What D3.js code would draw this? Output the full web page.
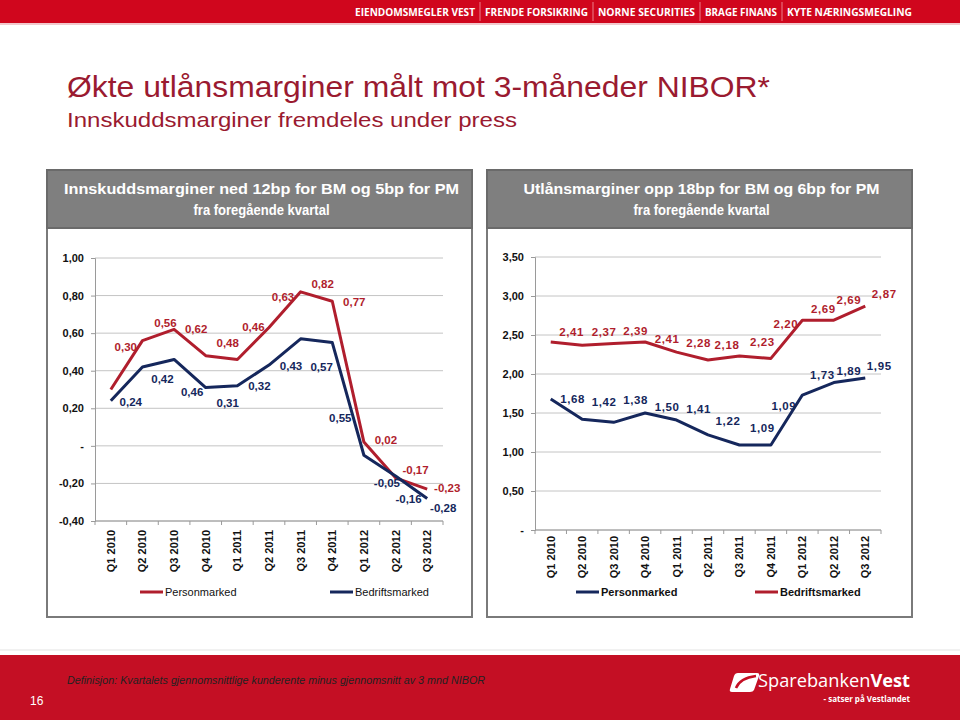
<!DOCTYPE html>
<html><head><meta charset="utf-8">
<script src="https://cdn.jsdelivr.net/npm/d3@7"></script>
<style>
html,body{margin:0;padding:0;background:#fff;}
svg{display:block;font-family:"Liberation Sans",Arial,sans-serif;}
</style></head>
<body>
<svg id="c" width="960" height="720"></svg>
<script>
// ---------- DATA ----------
const categories = ["Q1 2010","Q2 2010","Q3 2010","Q4 2010","Q1 2011","Q2 2011","Q3 2011","Q4 2011","Q1 2012","Q2 2012","Q3 2012"];
// Innskuddsmarginer (deposit margins)
const depositPM = [0.30,0.56,0.62,0.48,0.46,0.63,0.82,0.77,0.02,-0.17,-0.23];
const depositBM = [0.24,0.42,0.46,0.31,0.32,0.43,0.57,0.55,-0.05,-0.16,-0.28];
const depositTicks = [-0.4,-0.2,0,0.2,0.4,0.6,0.8,1.0];
// Utlånsmarginer (lending margins)
const lendingPM = [1.68,1.42,1.38,1.50,1.41,1.22,1.09,1.09,1.73,1.89,1.95];
const lendingBM = [2.41,2.37,2.39,2.41,2.28,2.18,2.23,2.20,2.69,2.69,2.87];
const lendingTicks = [0,0.5,1.0,1.5,2.0,2.5,3.0,3.5];
const bannerItems = ["EIENDOMSMEGLER VEST","FRENDE FORSIKRING","NORNE SECURITIES","BRAGE FINANS","KYTE NÆRINGSMEGLING"];

// ---------- STYLE / LAYOUT ----------
const RED = "#b01e2d", NAVY = "#15275c";
const depPMoff = [[15,-43],[23,-18],[22,0],[22,-13],[16,-32],[14,-31],[22,-8],[22,1],[22,-2],[20,-8],[20,-1]];
const depBMoff = [[20,1],[20,12],[18,33],[22,15],[22,0],[22,1],[21,28],[8,75],[23,28],[13,23],[16,10]];
const lenBMoff = [[21,-10],[22,-13],[22,-13],[22,-3],[22,-9],[19,-15],[23,-14],[15,-34],[21,-11],[15,-20],[19,-12]];
const lenPMoff = [[22,0],[22,-17],[22,-22],[22,-6],[22,-11],[20,-14],[23,-17],[13,-39],[20,-20],[15,-12],[14,-12]];

const svg = d3.select("#c");
const fmt = v => {
  if (Math.abs(v) < 1e-9) return "-";
  const s = Math.abs(v).toFixed(2).replace(".", ",");
  return (v < 0 ? "-" : "") + s;
};

// ---------- TOP BANNER ----------
svg.append("rect").attr("x",0).attr("y",0).attr("width",960).attr("height",23).attr("fill","#d0061d");
svg.append("rect").attr("x",0).attr("y",23).attr("width",960).attr("height",2).attr("fill","#f2c9cd");
const bannerX = [355,485,598,705,787], bannerW = [120,103,97,72,125];
bannerItems.forEach((t,i)=>{
  svg.append("text").attr("x",bannerX[i]).attr("y",16).text(t)
    .attr("fill","#fff").attr("font-size",11).attr("font-weight","bold")
    .attr("font-family","'Open Sans','Liberation Sans',sans-serif")
    .attr("textLength",bannerW[i]).attr("lengthAdjust","spacingAndGlyphs");
  if(i>0) svg.append("line").attr("x1",bannerX[i]-5).attr("x2",bannerX[i]-5).attr("y1",2).attr("y2",21)
    .attr("stroke","#f4a0a8").attr("stroke-width",0.8);
});

// ---------- TITLE ----------
svg.append("text").attr("x",67).attr("y",97).text("Økte utlånsmarginer målt mot 3-måneder NIBOR*")
  .attr("fill","#9a1a30").attr("font-size",29).attr("textLength",703).attr("lengthAdjust","spacingAndGlyphs");
svg.append("text").attr("x",67).attr("y",127).text("Innskuddsmarginer fremdeles under press")
  .attr("fill","#9a1a30").attr("font-size",21).attr("textLength",450).attr("lengthAdjust","spacingAndGlyphs");

// ---------- PANELS ----------
function panel(x0, x1, line1, line2, w1, w2){
  svg.append("rect").attr("x",x0).attr("y",170).attr("width",x1-x0).attr("height",447)
    .attr("fill","#fff").attr("stroke","#7a7a7a").attr("stroke-width",2);
  svg.append("rect").attr("x",x0).attr("y",170).attr("width",x1-x0).attr("height",58)
    .attr("fill","#7f7f7f").attr("stroke","#6a6a6a").attr("stroke-width",2);
  const cx = (x0+x1)/2 + 2;
  [[line1,194,w1],[line2,215,w2]].forEach(([t,y,w])=>{
    svg.append("text").attr("x",cx).attr("y",y).attr("text-anchor","middle").text(t)
      .attr("fill","#fff").attr("font-size",15).attr("font-weight","bold")
      .attr("font-family","'Liberation Sans Narrow','Arial Narrow','Liberation Sans',sans-serif")
      .attr("textLength",w).attr("lengthAdjust","spacingAndGlyphs");
  });
}
panel(47,472,"Innskuddsmarginer ned 12bp for BM og 5bp for PM","fra foregående kvartal",395,136);
panel(487,912,"Utlånsmarginer opp 18bp for BM og 6bp for PM","fra foregående kvartal",356,136);

// ---------- CHART ----------
function chart(opts){
  const g = svg.append("g");
  const x = d3.scaleBand().domain(categories).range([opts.x0, opts.x1]);
  const y = d3.scaleLinear().domain(opts.domain).range(opts.yRange);
  const cx = c => x(c) + x.bandwidth()/2;
  // grid
  g.selectAll("line.grid").data(opts.ticks).join("line").attr("class","grid")
    .attr("x1",opts.x0).attr("x2",opts.x1).attr("y1",d=>y(d)).attr("y2",d=>y(d))
    .attr("stroke","#c4c4c4").attr("stroke-width",1);
  // y axis
  const ya = g.append("g").attr("transform",`translate(${opts.x0},0)`)
    .call(d3.axisLeft(y).tickValues(opts.ticks).tickSize(4).tickFormat(fmt));
  ya.select(".domain").attr("stroke","#9a9a9a");
  ya.selectAll(".tick line").attr("stroke","#9a9a9a");
  ya.selectAll(".tick text").attr("font-size",11).attr("font-weight","bold").attr("fill","#111")
    .attr("font-family","'Liberation Sans',Arial,sans-serif").attr("x",-11);
  // x axis baseline and boundary ticks
  const axY = y(opts.domain[0]);
  g.append("line").attr("x1",opts.x0).attr("x2",opts.x1).attr("y1",axY).attr("y2",axY).attr("stroke","#9a9a9a");
  const bounds = categories.map(c=>x(c)).concat([opts.x1]);
  g.selectAll("line.xt").data(bounds).join("line").attr("class","xt")
    .attr("x1",d=>d).attr("x2",d=>d).attr("y1",axY).attr("y2",axY+4).attr("stroke","#9a9a9a");
  g.selectAll("text.xl").data(categories).join("text").attr("class","xl")
    .attr("transform",c=>`translate(${cx(c)+4},${axY+opts.labelGap}) rotate(-90)`)
    .attr("text-anchor","end").attr("font-size",11).attr("font-weight","bold").attr("fill","#111")
    .text(c=>c);
  // series
  const line = d3.line().x((d,i)=>cx(categories[i])).y(d=>y(d));
  opts.series.forEach(s=>{
    g.append("path").datum(s.values).attr("d",line).attr("fill","none")
      .attr("stroke",s.color).attr("stroke-width",3).attr("stroke-linejoin","round");
  });
  opts.series.forEach(s=>{
    g.selectAll(null).data(s.values).join("text")
      .attr("x",(d,i)=>cx(categories[i]) + s.off[i][0])
      .attr("y",(d,i)=>y(d) + s.off[i][1])
      .attr("dy","0.35em").attr("text-anchor","middle")
      .attr("font-size",opts.labelSize).attr("font-weight","bold").attr("fill",s.color)
      .attr("letter-spacing",opts.labelSpacing)
      .text(d=>fmt(d));
  });
  // legend
  opts.legend.forEach(l=>{
    g.append("line").attr("x1",l.x).attr("x2",l.x+23).attr("y1",592).attr("y2",592)
      .attr("stroke",l.color).attr("stroke-width",3);
    g.append("text").attr("x",l.x+25).attr("y",596).text(l.label)
      .attr("font-size",11).attr("font-weight",opts.legendWeight).attr("fill","#111");
  });
}

chart({
  x0:95, x1:443, domain:[-0.4,1.0], yRange:[521,258], ticks:depositTicks, labelGap:9,
  labelSize:11.5, labelSpacing:0,
  series:[
    {values:depositPM, color:RED, off:depPMoff},
    {values:depositBM, color:NAVY, off:depBMoff}
  ],
  legend:[{x:140,color:RED,label:"Personmarked"},{x:330,color:NAVY,label:"Bedriftsmarked"}],
  legendWeight:"normal"
});

chart({
  x0:535, x1:881, domain:[0,3.5], yRange:[530,257], ticks:lendingTicks, labelGap:6,
  labelSize:11.5, labelSpacing:0.6,
  series:[
    {values:lendingBM, color:RED, off:lenBMoff},
    {values:lendingPM, color:NAVY, off:lenPMoff}
  ],
  legend:[{x:576,color:NAVY,label:"Personmarked"},{x:755,color:RED,label:"Bedriftsmarked"}],
  legendWeight:"bold"
});

// ---------- FOOTER ----------
svg.append("line").attr("x1",0).attr("x2",960).attr("y1",650).attr("y2",650).attr("stroke","#e3e3e3");
svg.append("rect").attr("x",0).attr("y",655).attr("width",960).attr("height",65).attr("fill","#c40f24");
svg.append("text").attr("x",67).attr("y",684)
  .text("Definisjon: Kvartalets gjennomsnittlige kunderente minus gjennomsnitt av 3 mnd NIBOR")
  .attr("fill","#222").attr("font-size",11).attr("font-style","italic")
  .attr("font-family","'Liberation Sans Narrow','Liberation Sans',sans-serif")
  .attr("textLength",418).attr("lengthAdjust","spacingAndGlyphs");
svg.append("text").attr("x",30).attr("y",705).text("16").attr("fill","#fff").attr("font-size",12);
// logo
const logo = svg.append("g");
logo.append("path").attr("d","M735,673 L757,673 Q760,673 759,676 L754,690 Q753,692 750,692 L732,692 Q729,692 730,689 L734,676 Q735,673 738,673 Z")
  .attr("fill","#fff");
logo.append("path").attr("d","M736,688 Q740,678 756,676").attr("fill","none").attr("stroke","#c40f24").attr("stroke-width",2.5);
const lt = logo.append("text").attr("x",758).attr("y",687).attr("fill","#fff").attr("font-size",18)
  .attr("font-family","'Open Sans','Liberation Sans',sans-serif").attr("textLength",152).attr("lengthAdjust","spacingAndGlyphs");
lt.append("tspan").text("Sparebanken");
lt.append("tspan").attr("font-weight","bold").text("Vest");
logo.append("text").attr("x",910).attr("y",702).attr("text-anchor","end").text("- satser på Vestlandet")
  .attr("fill","#fff").attr("font-size",8).attr("font-weight","bold")
  .attr("font-family","'Open Sans','Liberation Sans',sans-serif");
</script>
</body></html>
